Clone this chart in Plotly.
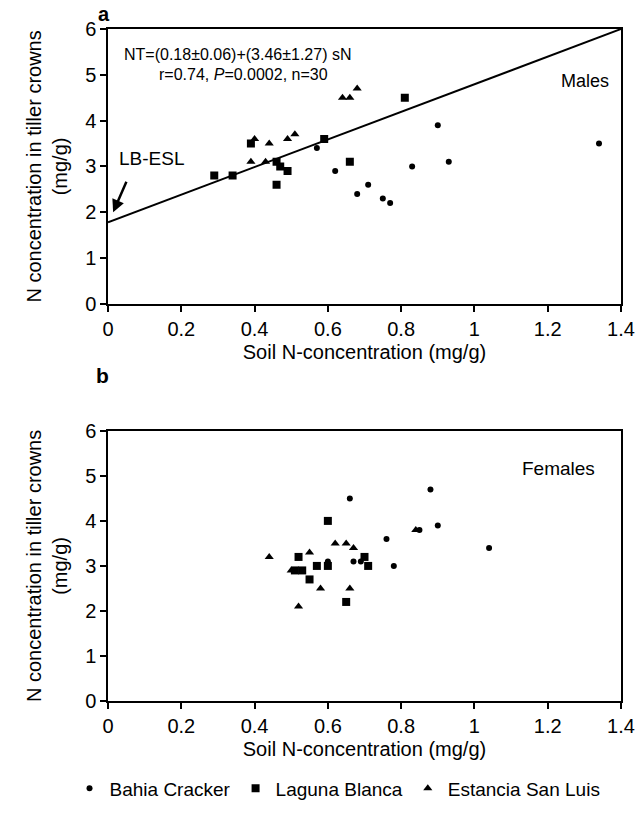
import plotly.graph_objects as go

# ---- Data ----
# Panel a: Males
males_bc_x = [0.57, 0.62, 0.68, 0.71, 0.75, 0.77, 0.83, 0.90, 0.93, 1.34]
males_bc_y = [3.4, 2.9, 2.4, 2.6, 2.3, 2.2, 3.0, 3.9, 3.1, 3.5]
males_lb_x = [0.29, 0.34, 0.39, 0.46, 0.47, 0.49, 0.46, 0.59, 0.66, 0.81]
males_lb_y = [2.8, 2.8, 3.5, 3.1, 3.0, 2.9, 2.6, 3.6, 3.1, 4.5]
males_esl_x = [0.39, 0.40, 0.43, 0.44, 0.49, 0.51, 0.64, 0.66, 0.68]
males_esl_y = [3.1, 3.6, 3.1, 3.5, 3.6, 3.7, 4.5, 4.5, 4.7]

# Regression line drawn in panel a
fit_x = [0.0, 1.4]
fit_y = [1.78, 6.0]

# Panel b: Females
fem_bc_x = [0.66, 0.88, 0.90, 0.85, 0.76, 1.04, 0.67, 0.69, 0.78, 0.60]
fem_bc_y = [4.5, 4.7, 3.9, 3.8, 3.6, 3.4, 3.1, 3.1, 3.0, 3.1]
fem_lb_x = [0.60, 0.52, 0.70, 0.57, 0.60, 0.71, 0.51, 0.53, 0.55, 0.65]
fem_lb_y = [4.0, 3.2, 3.2, 3.0, 3.0, 3.0, 2.9, 2.9, 2.7, 2.2]
fem_esl_x = [0.84, 0.62, 0.65, 0.67, 0.55, 0.44, 0.50, 0.58, 0.66, 0.52]
fem_esl_y = [3.8, 3.5, 3.5, 3.4, 3.3, 3.2, 2.9, 2.5, 2.5, 2.1]

site_names = ["Bahia Cracker", "Laguna Blanca", "Estancia San Luis"]

x_ticks = [0, 0.2, 0.4, 0.6, 0.8, 1, 1.2, 1.4]
x_tick_labels = ["0", "0.2", "0.4", "0.6", "0.8", "1", "1.2", "1.4"]
y_ticks = [0, 1, 2, 3, 4, 5, 6]

FONT = "Liberation Sans, Arial, sans-serif"

fig = go.Figure()

symbols = ["circle", "square", "triangle-up"]
sizes = [6, 8, 8]
panel_a = [(males_bc_x, males_bc_y), (males_lb_x, males_lb_y), (males_esl_x, males_esl_y)]
panel_b = [(fem_bc_x, fem_bc_y), (fem_lb_x, fem_lb_y), (fem_esl_x, fem_esl_y)]

for i, (xs, ys) in enumerate(panel_a):
    fig.add_trace(go.Scatter(x=xs, y=ys, mode="markers", xaxis="x", yaxis="y",
                             name=site_names[i], legendgroup=site_names[i], showlegend=False,
                             marker=dict(symbol=symbols[i], size=sizes[i], color="black")))

fig.add_trace(go.Scatter(x=fit_x, y=fit_y, mode="lines", xaxis="x", yaxis="y",
                         line=dict(color="black", width=2), showlegend=False, hoverinfo="skip"))

for i, (xs, ys) in enumerate(panel_b):
    fig.add_trace(go.Scatter(x=xs, y=ys, mode="markers", xaxis="x2", yaxis="y2",
                             name=site_names[i], legendgroup=site_names[i], showlegend=True,
                             marker=dict(symbol=symbols[i], size=sizes[i], color="black")))

axis_common = dict(showline=True, linecolor="black", linewidth=1.5, mirror=True,
                   ticks="outside", ticklen=6, tickwidth=1.5, tickcolor="black",
                   showgrid=False, zeroline=False, automargin=False,
                   tickfont=dict(family=FONT, size=20, color="black"))

xcommon = dict(axis_common, range=[0, 1.4], tickvals=x_ticks, ticktext=x_tick_labels)
ycommon = dict(axis_common, range=[0, 6], tickvals=y_ticks)

ytitle = dict(text="N concentration in tiller crowns<br>(mg/g)",
              font=dict(family=FONT, size=20, color="black"), standoff=12)
xtitle = dict(text="Soil N-concentration (mg/g)",
              font=dict(family=FONT, size=20, color="black"), standoff=6)

fig.update_layout(
    width=637, height=819,
    margin=dict(l=108, r=16, t=29, b=108),
    plot_bgcolor="white", paper_bgcolor="white",
    font=dict(family=FONT, size=20, color="black"),
    xaxis=dict(xcommon, domain=[0, 1], anchor="y", title=xtitle),
    yaxis=dict(ycommon, domain=[0.591, 1.0], anchor="x", title=ytitle),
    xaxis2=dict(xcommon, domain=[0, 1], anchor="y2", title=xtitle),
    yaxis2=dict(ycommon, domain=[0.0, 0.402], anchor="x2", title=ytitle),
    showlegend=True,
    legend=dict(orientation="h", x=-0.075, xanchor="left", y=-0.13, yanchor="middle",
                font=dict(family=FONT, size=19, color="black"), itemsizing="trace",
                itemwidth=30, tracegroupgap=0, bgcolor="rgba(0,0,0,0)"),
)

annotations = [
    dict(text="<b>a</b>", xref="paper", yref="paper", x=-0.008, y=1.023,
         xanchor="center", yanchor="middle",
         showarrow=False, font=dict(family=FONT, size=20, color="black")),
    dict(text="<b>b</b>", xref="paper", yref="paper", x=-0.01, y=0.485,
         xanchor="center", yanchor="middle",
         showarrow=False, font=dict(family=FONT, size=21, color="black")),
    dict(text="NT=(0.18±0.06)+(3.46±1.27) sN", xref="x", yref="y", x=0.038, y=5.44,
         xanchor="left", yanchor="middle", showarrow=False,
         font=dict(family=FONT, size=16, color="black")),
    dict(text="r=0.74, <i>P</i>=0.0002, n=30", xref="x", yref="y", x=0.371, y=5.01,
         xanchor="center", yanchor="middle", showarrow=False,
         font=dict(family=FONT, size=16, color="black")),
    dict(text="Males", xref="x", yref="y", x=1.373, y=4.86,
         xanchor="right", yanchor="middle", showarrow=False,
         font=dict(family=FONT, size=18, color="black")),
    dict(text="LB-ESL", xref="x", yref="y", x=0.025, y=3.18,
         xanchor="left", yanchor="middle", showarrow=False,
         font=dict(family=FONT, size=19, color="black")),
    dict(text="", xref="x", yref="y", x=0.014, y=2.0, axref="x", ayref="y",
         ax=0.052, ay=2.7, showarrow=True, arrowhead=2, arrowsize=1, arrowwidth=2.5,
         arrowcolor="black"),
    dict(text="Females", xref="x2", yref="y2", x=1.335, y=5.17,
         xanchor="right", yanchor="middle", showarrow=False,
         font=dict(family=FONT, size=19, color="black")),
]
fig.update_layout(annotations=annotations)

# remove the browser's default 8px body margin so the figure fills the window exactly
fig.write_html("out.html", config={"displayModeBar": False},
               post_script="document.body.style.margin='0';document.body.style.overflow='hidden';")
